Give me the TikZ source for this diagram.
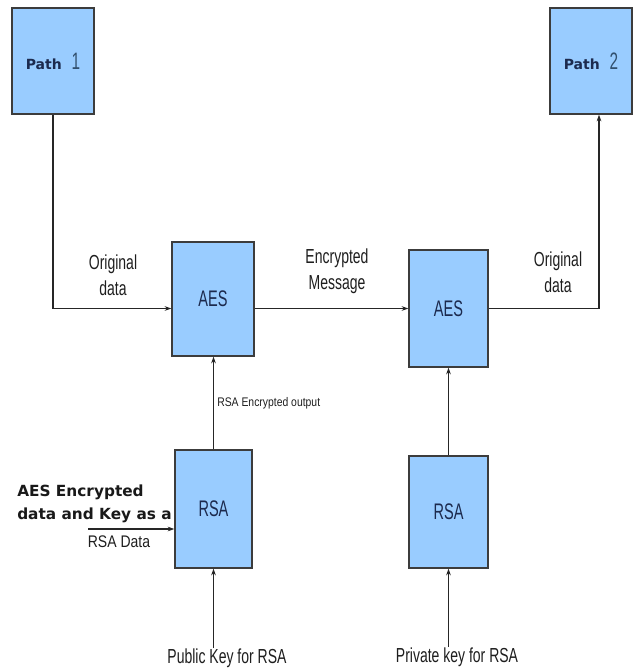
\documentclass[tikz,border=0pt]{standalone}
\usepackage{fontspec}
\usepackage{graphicx}
\setmainfont{Liberation Sans}
\newfontfamily\verdfont{DejaVu Sans}
\usetikzlibrary{arrows.meta}
\definecolor{boxblue}{RGB}{153,204,255}
\definecolor{boxline}{RGB}{60,60,60}
\definecolor{boxtext}{RGB}{28,42,78}
\definecolor{labtext}{RGB}{30,30,30}
\definecolor{numtext}{RGB}{50,80,110}
\newcommand{\tallbox}[1]{\scalebox{1}[1.55]{#1}}
\tikzset{
  blk/.style={draw=boxline, fill=boxblue, line width=1pt, inner sep=0pt,
    text=boxtext, font=\fontsize{10.9}{13}\selectfont},
  lab/.style={text=labtext, align=center, inner sep=0pt, yscale=1.45,
    font=\fontsize{10.5}{13.5}\selectfont},
  pathtxt/.style={blk, font=\verdfont\bfseries\fontsize{10.5}{12}\selectfont},
  conn/.style={draw=black!85, line width=0.8pt}
}
\begin{document}
\begin{tikzpicture}[x=0.75pt, y=-0.75pt, >={Stealth[length=5pt,width=3.5pt]}]
\useasboundingbox (0,0) rectangle (636,670);
\node[pathtxt, minimum width=61.5pt, minimum height=79.5pt] (path1) at (53,61)
  {Path\hspace{0.7em}\textcolor{numtext}{\normalfont\fontsize{11.5}{13}\selectfont\tallbox{1}}};
\node[pathtxt, minimum width=61.5pt, minimum height=79.5pt] (path2) at (591,61)
  {Path\hspace{0.7em}\textcolor{numtext}{\normalfont\fontsize{11.5}{13}\selectfont\tallbox{2}}};
\node[blk, minimum width=61.5pt, minimum height=85.5pt] (aes1) at (213,299) {\tallbox{AES}};
\node[blk, minimum width=59.25pt, minimum height=87.75pt] (aes2) at (448.5,308.5) {\tallbox{AES}};
\node[blk, minimum width=57.75pt, minimum height=88.5pt] (rsa1) at (213.5,509) {\tallbox{RSA}};
\node[blk, minimum width=59.25pt, minimum height=84pt] (rsa2) at (448.5,512) {\tallbox{RSA}};

\node[lab] (orig1) at (113,275) {Original\\data};
\node[lab] (encmsg) at (337,271) {Encrypted\\Message};
\node[lab] (orig2) at (558,272) {Original\\data};
\node[lab, yscale=1.2/1.45, anchor=west, font=\fontsize{7.8}{9}\selectfont] (encout) at (217,403) {RSA Encrypted output};
\node[lab] (pubkey) at (227,658) {Public Key for RSA};
\node[lab] (privkey) at (457,657) {Private key for RSA};
\node[anchor=north west, inner sep=0pt, align=left, text=black!90,
  font=\verdfont\bfseries\fontsize{11.5}{17}\selectfont] (aesdata) at (17,485)
  {AES Encrypted\\data and Key as a};
\node[lab, yscale=1.2/1.45] (rsadata) at (119,542) {RSA Data};
\coordinate (datain) at (88,529);

\draw[conn, ->] (path1.south) |- (aes1.west |- aes2.west);
\draw[conn, ->] (aes1.east |- aes2.west) -- (aes2.west);
\draw[conn, ->] (aes2.east) -| ([xshift=6pt]path2.south);
\draw[conn, ->] (rsa1.north) -- (rsa1.north |- aes1.south);
\draw[conn, ->] (rsa2.north) -- (aes2.south);
\draw[conn, ->] (rsa1.south |- pubkey.north) -- (rsa1.south);
\draw[conn, ->] (rsa2.south |- privkey.north) -- (rsa2.south);
\draw[conn, ->] (datain) -- (datain -| rsa1.west);
\end{tikzpicture}
\end{document}
